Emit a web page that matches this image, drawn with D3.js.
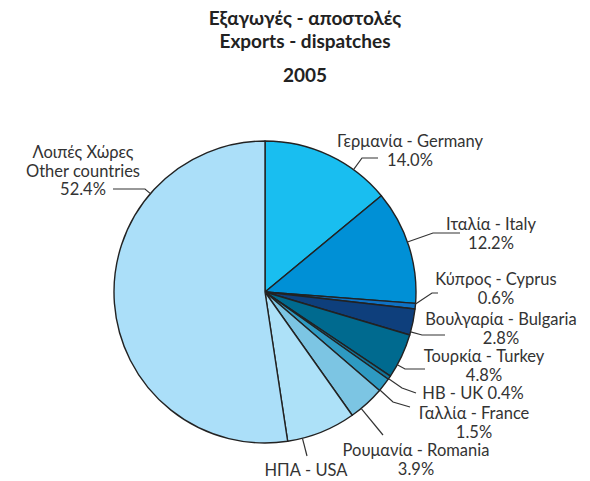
<!DOCTYPE html>
<html>
<head>
<meta charset="utf-8">
<script src="https://cdn.jsdelivr.net/npm/d3@7"></script>
<style>
  body { margin: 0; background: #fff; }
  svg { display: block; font-family: Lato, "Open Sans", sans-serif; }
</style>
</head>
<body>
<div id="chart"></div>
<script>
// data, clockwise from 12 o'clock
var greekNames = ["Γερμανία", "Ιταλία", "Κύπρος", "Βουλγαρία", "Τουρκία", "ΗΒ", "Γαλλία", "Ρουμανία", "ΗΠΑ", "Λοιπές Χώρες"];
var englishNames = ["Germany", "Italy", "Cyprus", "Bulgaria", "Turkey", "UK", "France", "Romania", "USA", "Other countries"];
var shares = [14.0, 12.2, 0.6, 2.8, 4.8, 0.4, 1.5, 3.9, 7.4, 52.4];
var colors = ["#19bef0", "#0090d6", "#0f72c4", "#0e3f7c", "#006a8f", "#13759a", "#2e9ac2", "#7cc5e3", "#ade1f8", "#abdff9"];

var width = 590, height = 481;
var cx = 265, cy = 292, radius = 151;

// label placement: text centre x, first baseline, leader elbow and end, line style
var labelLayout = [
  {x: 410, y: 147, elbow: [362, 158], end: [378, 158], mode: "two"},
  {x: 491, y: 230, elbow: [433, 233], end: [460, 233], mode: "two"},
  {x: 496, y: 285, elbow: [432, 293], end: [438, 293], mode: "two"},
  {x: 501, y: 325, elbow: [422, 335], end: [445, 335], mode: "two"},
  {x: 484, y: 362, elbow: [405, 369], end: [425, 369], mode: "two"},
  {x: 473, y: 399, elbow: [402, 388], end: [416, 393], mode: "one"},
  {x: 474, y: 419, elbow: [393, 402], end: [410, 407], mode: "two"},
  {x: 416, y: 456, elbow: [383, 435], end: [383, 435], mode: "two"},
  {x: 306, y: 476, elbow: [307, 456], end: [307, 456], mode: "name"},
  {x: 83, y: 158, elbow: [145, 189], end: [113, 189], mode: "three"}
];

var rows = shares.map(function(v, i) {
  return {greek: greekNames[i], english: englishNames[i], value: v, color: colors[i], layout: labelLayout[i]};
});

var svg = d3.select("#chart").append("svg")
  .attr("width", width)
  .attr("height", height);

// title
var title = svg.append("g")
  .attr("font-weight", "bold")
  .attr("font-size", 19)
  .attr("fill", "#222")
  .attr("text-anchor", "middle");
title.append("text").attr("x", 305).attr("y", 25).text("Εξαγωγές - αποστολές");
title.append("text").attr("x", 305).attr("y", 48).text("Exports - dispatches");
title.append("text").attr("x", 305).attr("y", 82).text("2005");

var pie = d3.pie().sort(null).value(function(d) { return d.value; });
var arc = d3.arc().innerRadius(0).outerRadius(radius);
var arcs = pie(rows);

var g = svg.append("g").attr("transform", "translate(" + cx + "," + cy + ")");

g.selectAll("path.slice")
  .data(arcs)
  .enter()
  .append("path")
  .attr("class", "slice")
  .attr("d", arc)
  .attr("fill", function(d) { return d.data.color; })
  .attr("stroke", "#222")
  .attr("stroke-width", 1.4)
  .attr("stroke-linejoin", "round");

var fmt = d3.format(".1f");

// leader lines: start on the rim, pointing at the elbow, kept inside the slice
function rimPoint(d) {
  var ex = d.data.layout.elbow[0] - cx, ey = d.data.layout.elbow[1] - cy;
  var a = Math.atan2(ex, -ey);
  if (a < 0) a += 2 * Math.PI;
  var pad = Math.min(0.004, (d.endAngle - d.startAngle) / 4);
  a = Math.max(d.startAngle + pad, Math.min(d.endAngle - pad, a));
  return [cx + radius * Math.sin(a), cy - radius * Math.cos(a)];
}

svg.selectAll("polyline.leader")
  .data(arcs)
  .enter()
  .append("polyline")
  .attr("class", "leader")
  .attr("points", function(d) {
    return [rimPoint(d), d.data.layout.elbow, d.data.layout.end].map(function(p) { return p.join(","); }).join(" ");
  })
  .attr("fill", "none")
  .attr("stroke", "#333")
  .attr("stroke-width", 1.2);

// labels
var labels = svg.selectAll("text.label")
  .data(arcs)
  .enter()
  .append("text")
  .attr("class", "label")
  .attr("text-anchor", "middle")
  .attr("font-size", 16.5)
  .attr("fill", "#333");

labels.each(function(d) {
  var t = d3.select(this), L = d.data.layout;
  var lines;
  var pct = fmt(d.data.value) + "%";
  if (L.mode === "one") lines = [d.data.greek + " - " + d.data.english + " " + pct];
  else if (L.mode === "name") lines = [d.data.greek + " - " + d.data.english];
  else if (L.mode === "three") lines = [d.data.greek, d.data.english, pct];
  else lines = [d.data.greek + " - " + d.data.english, pct];
  lines.forEach(function(s, i) {
    t.append("tspan").attr("x", L.x).attr("y", L.y + i * 18.5).text(s);
  });
});
</script>
</body>
</html>
